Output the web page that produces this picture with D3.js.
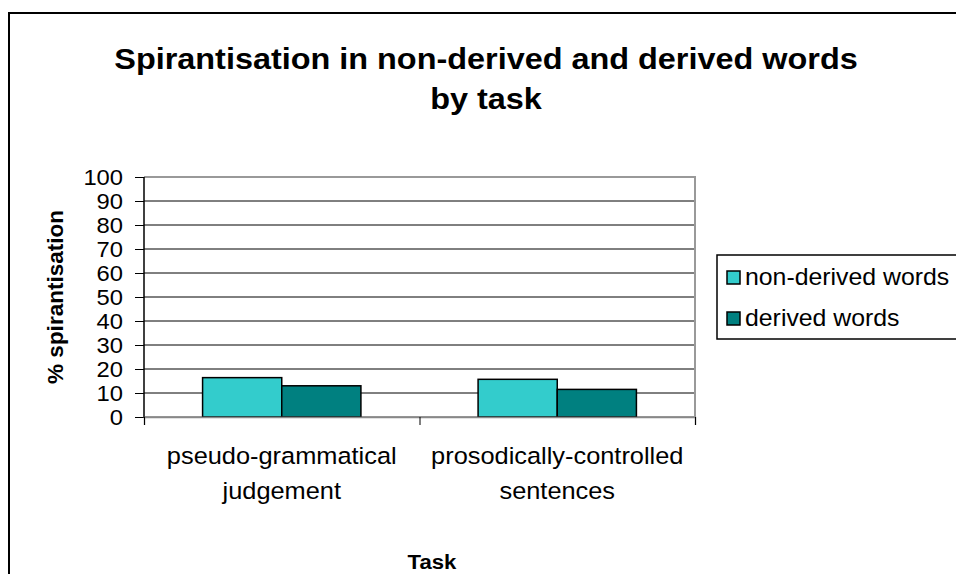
<!DOCTYPE html>
<html><head><meta charset="utf-8">
<script src="https://cdn.jsdelivr.net/npm/d3@7"></script>
<style>body{margin:0;background:#fff}svg{display:block;font-family:"Liberation Sans",Arial,sans-serif}</style>
</head><body><svg id="c" width="956" height="574"></svg>
<script>
const categories = [["pseudo-grammatical","judgement"],["prosodically-controlled","sentences"]];
const seriesNames = ["non-derived words","derived words"];
const nonDerived = [16.4, 15.7];
const derived = [13.0, 11.5];
const yTicks = [0,10,20,30,40,50,60,70,80,90,100];
const colors = ["#33CCCC","#008080"];

const svg = d3.select("#c");
const SX = 1.08;
function txt(parent, x, y, s, size, anchor, bold){
  const g = parent.append("g").attr("transform",`translate(${x},${y}) scale(${SX},1)`);
  g.append("text").attr("text-anchor",anchor||"start").attr("font-size",size)
    .attr("font-weight",bold?"bold":"normal").attr("fill","#000").text(s);
  return g;
}
// outer chart border
svg.append("rect").attr("x",9).attr("y",13).attr("width",1000).attr("height",700)
  .attr("fill","#fff").attr("stroke","#000").attr("stroke-width",2);

const L=144,R=695,T=177,B=417;
const x0 = d3.scaleBand().domain(d3.range(categories.length)).range([L,R]).paddingInner(0).paddingOuter(0);
const x1 = d3.scaleBand().domain(d3.range(2)).range([0,x0.bandwidth()]).paddingInner(0).paddingOuter(0.74);
const y = d3.scaleLinear().domain([0,100]).range([B,T]);

// gridlines
svg.append("g").selectAll("line").data(yTicks.filter(d=>d>0&&d<100)).join("line")
  .attr("x1",L).attr("x2",R).attr("y1",d=>y(d)).attr("y2",d=>y(d)).attr("stroke","#000").attr("stroke-width",1);
// plot border gray
svg.append("path").attr("d",`M${L},${T}H${R}V${B}H${L}`).attr("fill","none").attr("stroke","#999").attr("stroke-width",2);

// bars
const data = [nonDerived, derived];
const g = svg.append("g");
categories.forEach((c,i)=>{
  data.forEach((s,j)=>{
    g.append("rect").attr("x",x0(i)+x1(j)).attr("y",y(s[i])).attr("width",x1.bandwidth()).attr("height",y(0)-y(s[i]))
      .attr("fill",colors[j]).attr("stroke","#000").attr("stroke-width",1.5);
  });
});

// y axis
const ya = svg.append("g").attr("transform",`translate(${L},0)`)
  .call(d3.axisLeft(y).tickValues(yTicks).tickSize(9).tickFormat(""));
ya.select(".domain").attr("stroke","#000").attr("stroke-width",1.5).attr("d",`M0,${T}V${B}`);
ya.selectAll(".tick line").attr("stroke","#000");
yTicks.forEach(v=>txt(svg, 123, y(v)+8, String(v), 22, "end"));

// x axis
const xt = d3.scaleLinear().domain([0,categories.length]).range([L,R]);
const xa = svg.append("g").attr("transform",`translate(0,${B})`)
  .call(d3.axisBottom(xt).tickValues(d3.range(categories.length+1)).tickSize(8).tickFormat(""));
xa.select(".domain").attr("stroke","#888").attr("stroke-width",1.5);
xa.selectAll(".tick line").attr("stroke","#000");

categories.forEach((c,i)=>{
  const cx = x0(i)+x0.bandwidth()/2;
  c.forEach((ln,k)=>txt(svg, cx, 464+k*35, ln, 23.5, "middle"));
});

// titles
txt(svg, 486, 69, "Spirantisation in non-derived and derived words", 30, "middle", true);
txt(svg, 486, 109, "by task", 30, "middle", true);
txt(svg, 432, 569, "Task", 20.5, "middle", true);
svg.append("text").attr("transform","translate(63,297) rotate(-90)").attr("text-anchor","middle").attr("font-weight","bold").attr("font-size",22.5).text("% spirantisation");

// legend
const lg = svg.append("g");
lg.append("rect").attr("x",717).attr("y",255).attr("width",300).attr("height",84).attr("fill","#fff").attr("stroke","#000").attr("stroke-width",1.5);
seriesNames.forEach((n,j)=>{
  lg.append("rect").attr("x",727).attr("y",271+j*41).attr("width",13).attr("height",13).attr("fill",colors[j]).attr("stroke","#000").attr("stroke-width",1.5);
  txt(lg, 745, 285+j*41, n, 23, "start");
});
</script></body></html>
